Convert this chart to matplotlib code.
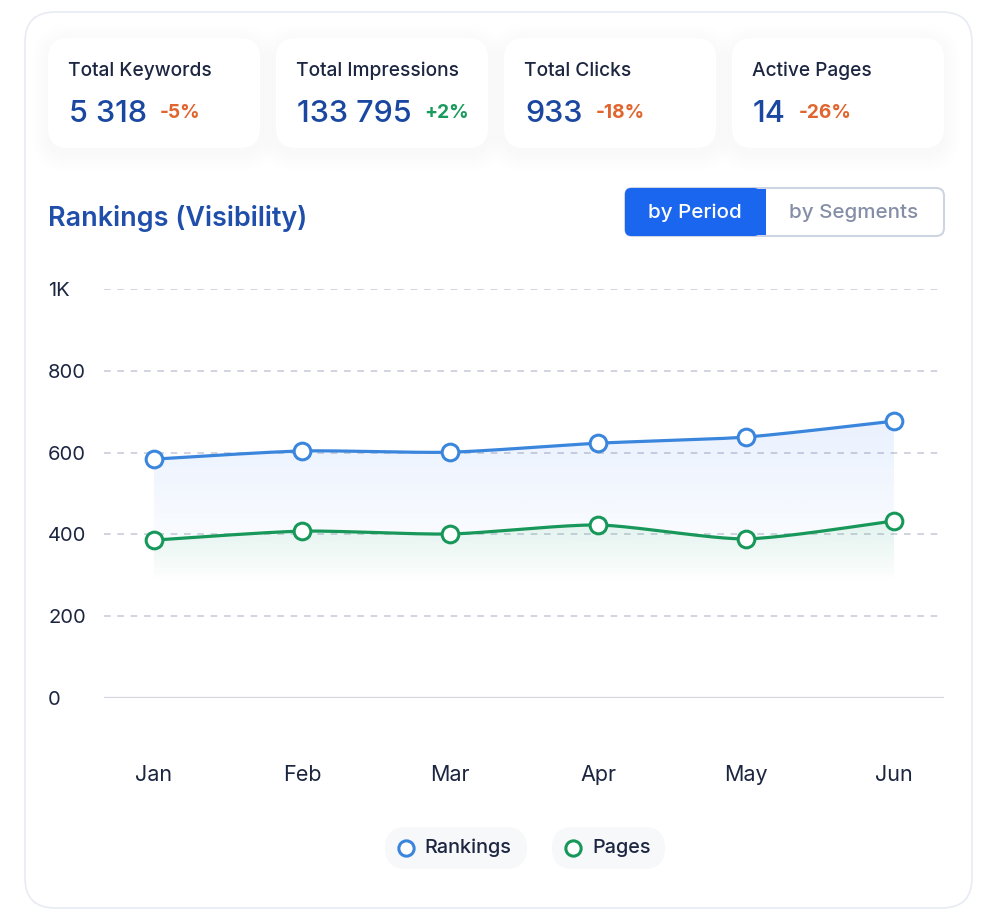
import numpy as np
import matplotlib
matplotlib.use("Agg")
import matplotlib.pyplot as plt
from matplotlib.patches import FancyBboxPatch, Polygon

plt.rcParams['font.family'] = ['Inter', 'DejaVu Sans']

# data
months = ["Jan", "Feb", "Mar", "Apr", "May", "Jun"]
rankings = [584, 604, 601, 623, 638, 677]
pages = [386, 408, 401, 423, 389, 433]

card_titles = ["Total Keywords", "Total Impressions", "Total Clicks", "Active Pages"]
card_values = ["5 318", "133 795", "933", "14"]
card_changes = ["-5%", "+2%", "-18%", "-26%"]

yticks = [0, 200, 400, 600, 800, 1000]
ytick_labels = ["0", "200", "400", "600", "800", "1K"]

BLUE = "#3b86dd"
GREEN = "#17985a"
NAVY = "#1c2641"
VALUE_BLUE = "#1a47a0"
ORANGE = "#e0652e"
UP_GREEN = "#1a9a5c"

W, H = 992, 910
fig = plt.figure(figsize=(W / 100, H / 100), dpi=100)
fig.patch.set_facecolor("white")

# background axes in pixel units
bg = fig.add_axes([0, 0, 1, 1])
bg.set_xlim(0, W)
bg.set_ylim(H, 0)
bg.axis("off")


def rbox(x0, y0, x1, y1, r, fc, ec="none", lw=0, alpha=1, z=1):
    p = FancyBboxPatch((x0 + r, y0 + r), x1 - x0 - 2 * r, y1 - y0 - 2 * r,
                       boxstyle="round,pad=%f" % r, fc=fc, ec=ec, lw=lw,
                       alpha=alpha, zorder=z)
    bg.add_patch(p)


# outer card
rbox(25, 12, 972, 908, 30, "white", ec="#e8ebf2", lw=1.2, z=0)

# stat cards with soft shadow
card_x = [48, 276, 504, 732]
for i in range(4):
    x0 = card_x[i]
    x1 = x0 + 212
    for k in range(6):
        g = 3 + k * 3
        rbox(x0 - g + 2, 38 - g + 5, x1 + g - 2, 148 + g + 5, 20 + g, "#b4bac8",
             alpha=0.008, z=1)
    rbox(x0, 38, x1, 148, 20, "white", z=2)
    bg.text(x0 + 20, 76, card_titles[i], fontsize=13.8, color=NAVY,
            fontweight="medium", va="baseline", zorder=3)
    t = bg.text(x0 + 21, 122, card_values[i], fontsize=22, color=VALUE_BLUE,
                fontweight="medium", va="baseline", zorder=3)
    fig.canvas.draw()
    bb = t.get_window_extent()
    xend = bb.x1
    col = UP_GREEN if card_changes[i].startswith("+") else ORANGE
    bg.text(xend + 13, 118, card_changes[i], fontsize=13.8, color=col,
            fontweight="bold", va="baseline", zorder=3)

# title
bg.text(48, 226, "Rankings (Visibility)", fontsize=19.4, color="#1f4eab",
        fontweight="semibold", va="baseline")

# toggle
rbox(625, 188, 944, 236, 8, "white", ec="#cfd4e2", lw=1.5, z=2)
bg.add_patch(FancyBboxPatch((631, 194), 123, 36, boxstyle="round,pad=6",
                            fc="#1b66ef", ec="none", zorder=3))
bg.add_patch(plt.Rectangle((740, 188.8), 26, 46.5, fc="#1b66ef", ec="none", zorder=3))
bg.text(695, 213, "by Period", fontsize=14.8, color="white", fontweight="medium",
        ha="center", va="center", zorder=4)
bg.text(854, 213, "by Segments", fontsize=14.8, color="#858ea6", fontweight="medium",
        ha="center", va="center", zorder=4)

# legend pills
rbox(385, 827, 527, 869, 21, "#f7f8fa", z=2)
rbox(552, 827, 665, 869, 21, "#f7f8fa", z=2)
bg.plot([406], [848], "o", ms=11, mfc="white", mec=BLUE, mew=2.2, zorder=3)
bg.plot([573], [848], "o", ms=11, mfc="white", mec=GREEN, mew=2.2, zorder=3)
bg.text(424, 848, "Rankings", fontsize=14.3, color=NAVY, fontweight="medium",
        va="center", zorder=3)
bg.text(592, 848, "Pages", fontsize=14.3, color=NAVY, fontweight="medium",
        va="center", zorder=3)

# chart axes
ax_l, ax_r, ax_t, ax_b = 104, 944, 289, 698
ax = fig.add_axes([ax_l / W, 1 - ax_b / H, (ax_r - ax_l) / W, (ax_b - ax_t) / H])
ax.patch.set_alpha(0)
x = np.arange(len(months))
ax.set_xlim(-0.338, 5.338)
ax.set_ylim(0, 1000)
for s in ax.spines.values():
    s.set_visible(False)
for v in yticks[1:]:
    ax.axhline(v, color="#c9cdd9", lw=1.2, ls=(0, (4, 4)), zorder=0)
ax.axhline(0, color="#d3d6e0", lw=1.6, zorder=0)

ax.set_yticks(yticks)
ax.set_yticklabels(ytick_labels)
ax.set_xticks(x)
ax.set_xticklabels(months)
ax.tick_params(axis="y", length=0, pad=40.3, labelsize=14.5, labelcolor=NAVY)
ax.tick_params(axis="x", length=0, pad=48, labelsize=15.5, labelcolor=NAVY)
for lab in ax.get_yticklabels():
    lab.set_horizontalalignment("left")


def smooth(xs, ys, n=40, t=0.5):
    xs = np.asarray(xs, float)
    ys = np.asarray(ys, float)
    px = np.concatenate([[xs[0]], xs, [xs[-1]]])
    py = np.concatenate([[ys[0]], ys, [ys[-1]]])
    ox, oy = [], []
    for i in range(1, len(px) - 2):
        m1x = (px[i + 1] - px[i - 1]) * t / 2
        m1y = (py[i + 1] - py[i - 1]) * t / 2
        m2x = (px[i + 2] - px[i]) * t / 2
        m2y = (py[i + 2] - py[i]) * t / 2
        s = np.linspace(0, 1, n)
        h00 = 2 * s**3 - 3 * s**2 + 1
        h10 = s**3 - 2 * s**2 + s
        h01 = -2 * s**3 + 3 * s**2
        h11 = s**3 - s**2
        ox.append(h00 * px[i] + h10 * m1x + h01 * px[i + 1] + h11 * m2x)
        oy.append(h00 * py[i] + h10 * m1y + h01 * py[i + 1] + h11 * m2y)
    return np.concatenate(ox), np.concatenate(oy)


def gradient_fill(xs, ys, color, bottom, a_top):
    poly = np.column_stack([np.concatenate([xs, [xs[-1], xs[0]]]),
                            np.concatenate([ys, [bottom, bottom]])])
    patch = Polygon(poly, closed=True, fc="none", ec="none")
    ax.add_patch(patch)
    rgb = matplotlib.colors.to_rgb(color)
    top = ys.max()
    grad = np.zeros((100, 1, 4))
    grad[:, :, :3] = rgb
    grad[:, 0, 3] = np.linspace(a_top, 0, 100)
    im = ax.imshow(grad, aspect="auto", extent=[xs[0], xs[-1], bottom, top],
                   origin="upper", zorder=1)
    im.set_clip_path(patch)


sx, sy = smooth(x, rankings, t=0.7)
gradient_fill(sx, sy, "#3b82f6", 280, 0.11)
gx, gy = smooth(x, pages, t=0.7)
gradient_fill(gx, gy, "#22b060", 280, 0.10)
ax.set_xlim(-0.338, 5.338)
ax.set_ylim(0, 1000)

ax.plot(sx, sy, color=BLUE, lw=2.3, zorder=3, solid_capstyle="round")
ax.plot(gx, gy, color=GREEN, lw=2.3, zorder=3, solid_capstyle="round")
ax.plot(x, rankings, "o", ms=12, mfc="white", mec=BLUE, mew=2.2, zorder=4, clip_on=False)
ax.plot(x, pages, "o", ms=12, mfc="white", mec=GREEN, mew=2.2, zorder=4, clip_on=False)

fig.savefig("out.png", dpi=100, facecolor="white")
